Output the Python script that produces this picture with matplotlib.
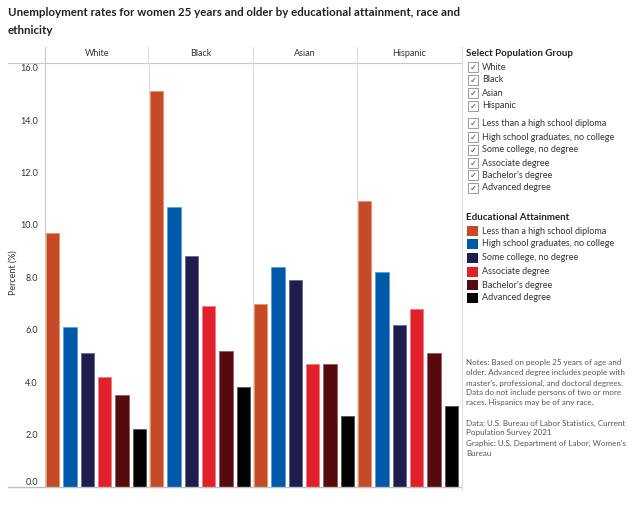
import matplotlib
matplotlib.use("Agg")
import matplotlib.pyplot as plt
from matplotlib.patches import Rectangle
from matplotlib.lines import Line2D
import numpy as np

plt.rcParams['font.family'] = ['Lato', 'DejaVu Sans']

groups = ["White", "Black", "Asian", "Hispanic"]
levels = ["Less than a high school diploma", "High school graduates, no college",
          "Some college, no degree", "Associate degree", "Bachelor's degree",
          "Advanced degree"]
colors = ["#C64A28", "#0058A8", "#1F1D4E", "#E0202A", "#560A0E", "#000000"]
edge_colors = ["#E8956A", "#5AA0DC", "#6A6896", "#F07A80", "#A05A5E", "#555555"]
values = {
    "White":    [9.7, 6.1, 5.1, 4.2, 3.5, 2.2],
    "Black":    [15.1, 10.7, 8.8, 6.9, 5.2, 3.8],
    "Asian":    [7.0, 8.4, 7.9, 4.7, 4.7, 2.7],
    "Hispanic": [10.9, 8.2, 6.2, 6.8, 5.1, 3.1],
}
yticks = [0, 2, 4, 6, 8, 10, 12, 14, 16]

W, H = 640, 532
def fx(px): return px / W
def fy(py): return 1 - py / H

fig = plt.figure(figsize=(6.4, 5.32), dpi=100)
fig.patch.set_facecolor("white")

L, R, T, B = 45, 461, 63, 487
ax = fig.add_axes([fx(L), fy(B), fx(R) - fx(L), fy(T) - fy(B)])
n = len(levels)
for g, grp in enumerate(groups):
    for i, v in enumerate(values[grp]):
        ax.bar(g * n + i + 0.45, v, width=0.77, color=colors[i],
               edgecolor=edge_colors[i], linewidth=0.6, zorder=3)
ax.set_xlim(0, n * len(groups))
ax.set_ylim(0, 16.18)
ax.set_xticks([])
ax.set_yticks(yticks)
ax.set_yticklabels([f"{t:.1f}" for t in yticks], fontsize=6.5, color="#333333")
ax.get_yticklabels()[0].set_va("bottom")
ax.tick_params(axis="y", length=0, pad=5)
for s in ["top", "right", "bottom"]:
    ax.spines[s].set_visible(False)
ax.spines["left"].set_color("#c8c8c8")
ax.spines["left"].set_linewidth(0.8)
for g in range(1, len(groups)):
    ax.axvline(g * n, color="#dcdcdc", linewidth=0.8, zorder=1)
fig.text(fx(13), fy(273), "Percent (%)", rotation=90, ha="center", va="center",
         fontsize=6.5, color="#333333")

def hline(y, x0, x1, c="#c8c8c8", lw=0.8):
    fig.add_artist(Line2D([fx(x0), fx(x1)], [fy(y), fy(y)], color=c, linewidth=lw))
def vline(x, y0, y1, c="#dcdcdc", lw=0.8):
    fig.add_artist(Line2D([fx(x), fx(x)], [fy(y0), fy(y1)], color=c, linewidth=lw))

hline(T, 8, R)
hline(B, 8, R, c="#c0c0c0", lw=1.0)
vline(L, 47, T, c="#c8c8c8")
for xs in [148, 253, 357]:
    vline(xs, 47, T)
vline(462, 47, 490, c="#e0e0e0")

pan_w = (R - L) / len(groups)
for g, grp in enumerate(groups):
    fig.text(fx(L + pan_w * (g + 0.5)), fy(54), grp, ha="center", va="center",
             fontsize=6.5, color="#333333")

title_lines = ["Unemployment rates for women 25 years and older by educational attainment, race and",
               "ethnicity"]
for k, line in enumerate(title_lines):
    fig.text(fx(8), fy(13 + 17 * k), line, ha="left", va="center",
             fontweight="bold", color="#222222", fontsize=8.3)

fig.text(fx(466), fy(54), "Select Population Group", ha="left", va="center",
         fontsize=7, fontweight="bold", color="#222222")
sel_items = groups + levels
sel_y = [67, 80, 93, 106, 123, 137, 150, 163, 175, 188]
for lab, y in zip(sel_items, sel_y):
    fig.add_artist(Rectangle((fx(468), fy(y + 5)), fx(10), 10 / H,
                             facecolor="white", edgecolor="#9a9a9a", linewidth=0.7))
    fig.text(fx(473), fy(y), "\u2713", ha="center", va="center", fontsize=6,
             color="#444444", family=["DejaVu Sans"])
    fig.text(fx(482), fy(y), lab, ha="left", va="center", fontsize=6.5, color="#333333")

fig.text(fx(466), fy(218), "Educational Attainment", ha="left", va="center",
         fontsize=7, fontweight="bold", color="#222222")
leg_y = [231, 244, 258, 272, 285, 298]
for lab, c, y in zip(levels, colors, leg_y):
    fig.add_artist(Rectangle((fx(467), fy(y + 5)), fx(11), 10 / H,
                             facecolor=c, edgecolor="none"))
    fig.text(fx(482), fy(y), lab, ha="left", va="center", fontsize=6.5, color="#333333")

notes = ["Notes: Based on people 25 years of age and",
         "older. Advanced degree includes people with",
         "master's, professional, and doctoral degrees.",
         "Data do not include persons of two or more",
         "races. Hispanics may be of any race."]
for k, line in enumerate(notes):
    fig.text(fx(466), fy(363 + 10 * k), line, ha="left", va="center",
             fontsize=5.8, color="#555555")
src = ["Data: U.S. Bureau of Labor Statistics, Current",
       "Population Survey 2021",
       "Graphic: U.S. Department of Labor, Women's",
       "Bureau"]
for k, line in enumerate(src):
    fig.text(fx(466), fy(423 + 10 * k), line, ha="left", va="center",
             fontsize=5.8, color="#555555")

fig.savefig("out.png", dpi=100, facecolor="white")
